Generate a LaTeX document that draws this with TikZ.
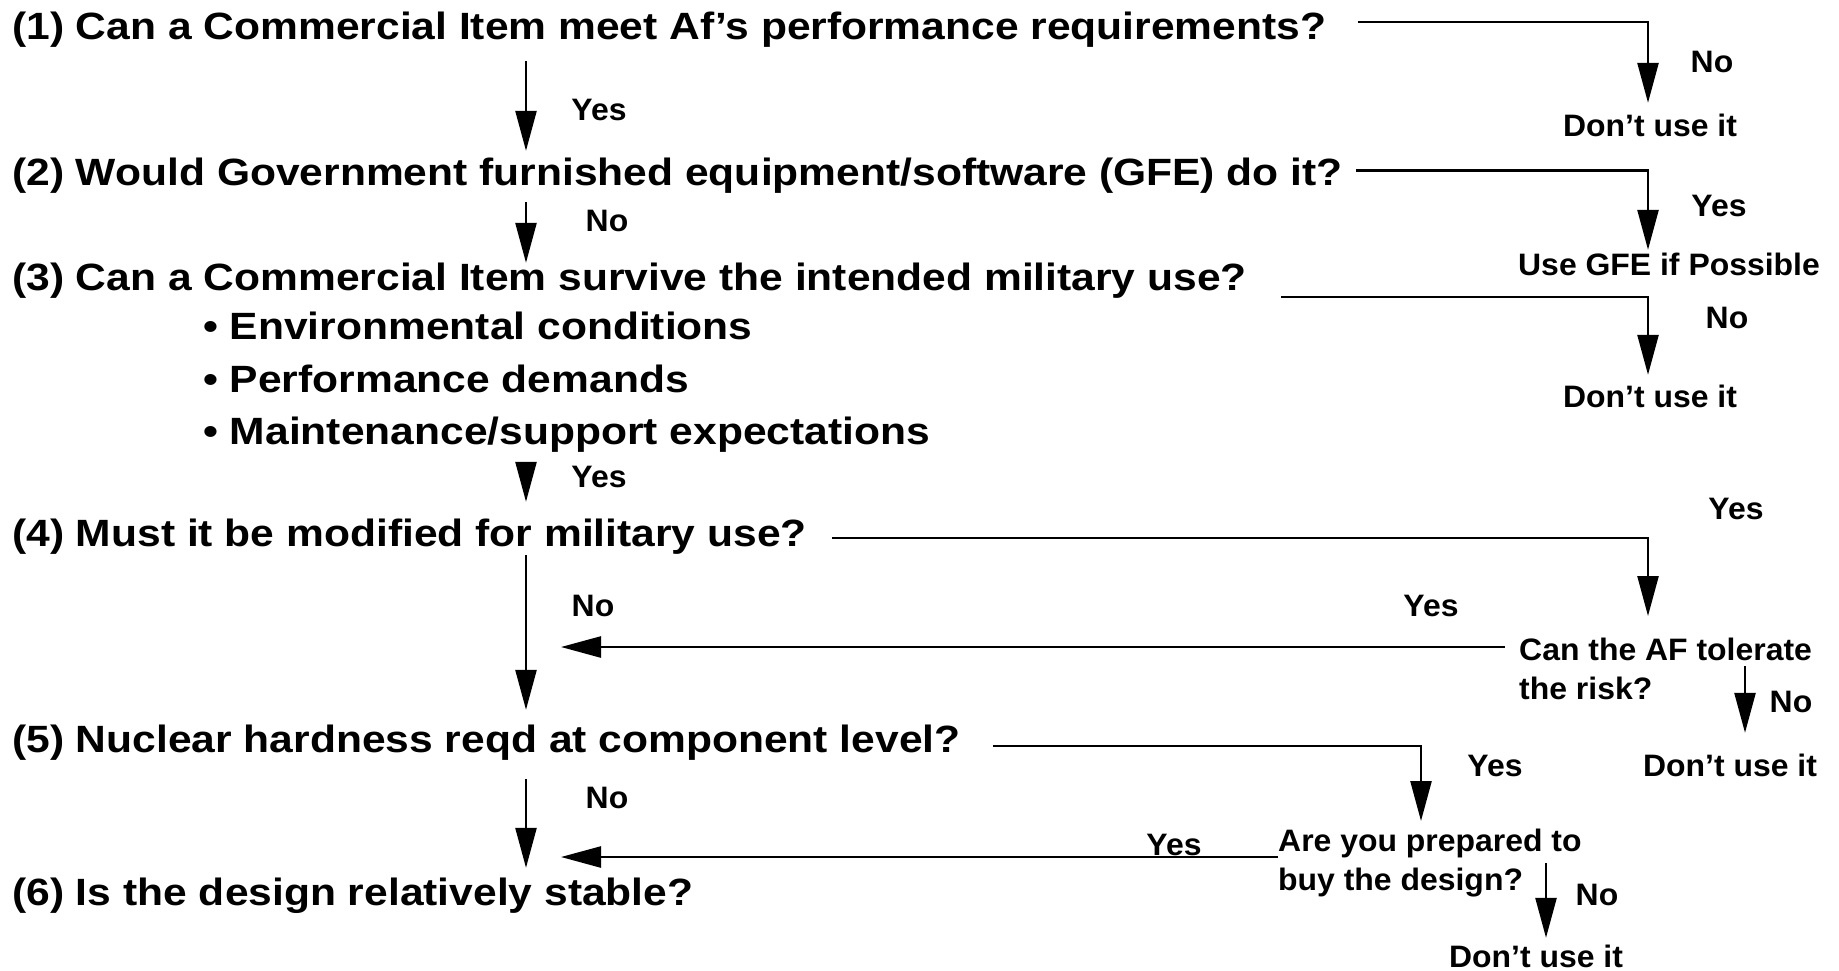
\documentclass[tikz,border=0pt]{standalone}
\usepackage{fontspec}
\setmainfont{Liberation Sans}
\newfontfamily\qfont{Liberation Sans}[FakeStretch=1.12]
\newfontfamily\afont{Liberation Sans}[FakeStretch=1.03]
\usetikzlibrary{arrows.meta}
\tikzset{
  question/.style={
    inner sep=0pt,
    font=\qfont\bfseries\fontsize{38}{52.5}\selectfont
  },
  qline/.style={question, anchor=base west, text height=27pt, text depth=0pt},
  answer/.style={
    inner sep=0pt,
    font=\afont\bfseries\fontsize{31}{39}\selectfont,
    text height=22pt, text depth=0pt
  },
  choice/.style={
    inner sep=0pt, align=left, anchor=north west,
    font=\afont\bfseries\fontsize{31}{39}\selectfont
  },
  flow/.style={->, >={Triangle[length=40pt,width=21pt]}, line width=2.5pt},
}

\begin{document}
\begin{tikzpicture}[x=1pt,y=-1pt]
  \useasboundingbox (0,0) rectangle (1839,970);
  \coordinate (spine) at (526,0);
  \coordinate (col) at (1648,0);
  \coordinate (drop5) at (1421,0);

  % the six questions
  \node[qline] (q1) at (12,39) {(1) Can a Commercial Item meet Af’s performance requirements?};
  \node[qline] (q2) at (12,185) {(2) Would Government furnished equipment/software (GFE) do it?};
  \node[qline] (q3) at (12,290) {(3) Can a Commercial Item survive the intended military use?};
  \node[question, align=left, anchor=north west] (bul) at (203,312)
    {• Environmental conditions\\• Performance demands\\• Maintenance/support expectations};
  \node[qline] (q4) at (12,546) {(4) Must it be modified for military use?};
  \node[qline] (q5) at (12,752) {(5) Nuclear hardness reqd at component level?};
  \node[qline] (q6) at (12,905) {(6) Is the design relatively stable?};

  % outcomes on the right
  \node[answer] (r1) at (1650,125) {Don’t use it};
  \node[answer] (gfe) at (1669,264) {Use GFE if Possible};
  \node[answer] (r3) at (1650,396) {Don’t use it};
  \node[choice] (af) at (1519,638) {Can the AF tolerate\\the risk?};
  \node[answer] (r4) at (1730,765) {Don’t use it};
  \node[choice] (buy) at (1278,829) {Are you prepared to\\buy the design?};
  \node[answer] (r5) at (1536,956) {Don’t use it};

  % main column
  \path[flow]
    (q1.south -| spine) edge[shorten <=22pt, shorten >=7pt] (q2.north -| spine)
    (q2.south -| spine) edge[shorten <=17pt] (q3.north -| spine)
    (bul.south -| spine) edge[shorten <=10pt, shorten >=17pt] (q4.north -| spine)
    (q4.south -| spine) edge[shorten <=9pt, shorten >=15pt] (q5.north -| spine)
    (q5.south -| spine) edge[shorten <=27pt, shorten >=10pt] (q6.north -| spine);
  \node[answer] (yes1) at (599,109) {Yes};
  \node[answer] (no2) at (607,220) {No};
  \node[answer] (yes3) at (599,476) {Yes};
  \node[answer] (no4) at (593,605) {No};
  \node[answer] (no5) at (607,797) {No};

  % branches off to the right
  \draw[flow, shorten <=31pt, shorten >=11pt] ([yshift=3.5pt]q1.east) -| (col |- r1.north);
  \draw[flow, shorten <=13pt, shorten >=3pt] ([yshift=1pt]q2.east) -| (col |- gfe.north);
  \draw[flow, shorten <=34pt, shorten >=10pt] ([yshift=-20.5pt]q3.east) -| (col |- r3.north);
  \draw[flow, shorten <=25pt, shorten >=22pt] ([yshift=-5.5pt]q4.east) -| (col |- af.north);
  \draw[flow, shorten <=32pt, shorten >=8pt] ([yshift=-7.5pt]q5.east) -| (drop5 |- buy.north);
  \node[answer] (no1) at (1712,61) {No};
  \node[answer] (yes2) at (1719,205) {Yes};
  \node[answer] (no3) at (1727,317) {No};
  \node[answer] (yes4) at (1736,508) {Yes};
  \node[answer] (yes5) at (1495,765) {Yes};

  % back to the main column, or stop
  \coordinate (in4) at (561,647);
  \coordinate (in6) at (561,857);
  \coordinate (afno) at (1745,666);
  \coordinate (buyno) at (1546,863);
  \draw[flow, shorten <=14pt] (af.west |- in4) -- (in4);
  \draw[flow] (buy.west |- in6) -- (in6);
  \draw[flow, shorten >=21pt] (afno) -- (afno |- r4.north);
  \draw[flow, shorten >=7pt] (buyno) -- (buyno |- r5.north);
  \node[answer] (yes4b) at (1431,605) {Yes};
  \node[answer] (no4b) at (1791,701) {No};
  \node[answer] (yes5b) at (1174,844) {Yes};
  \node[answer] (no5b) at (1597,894) {No};
\end{tikzpicture}
\end{document}
